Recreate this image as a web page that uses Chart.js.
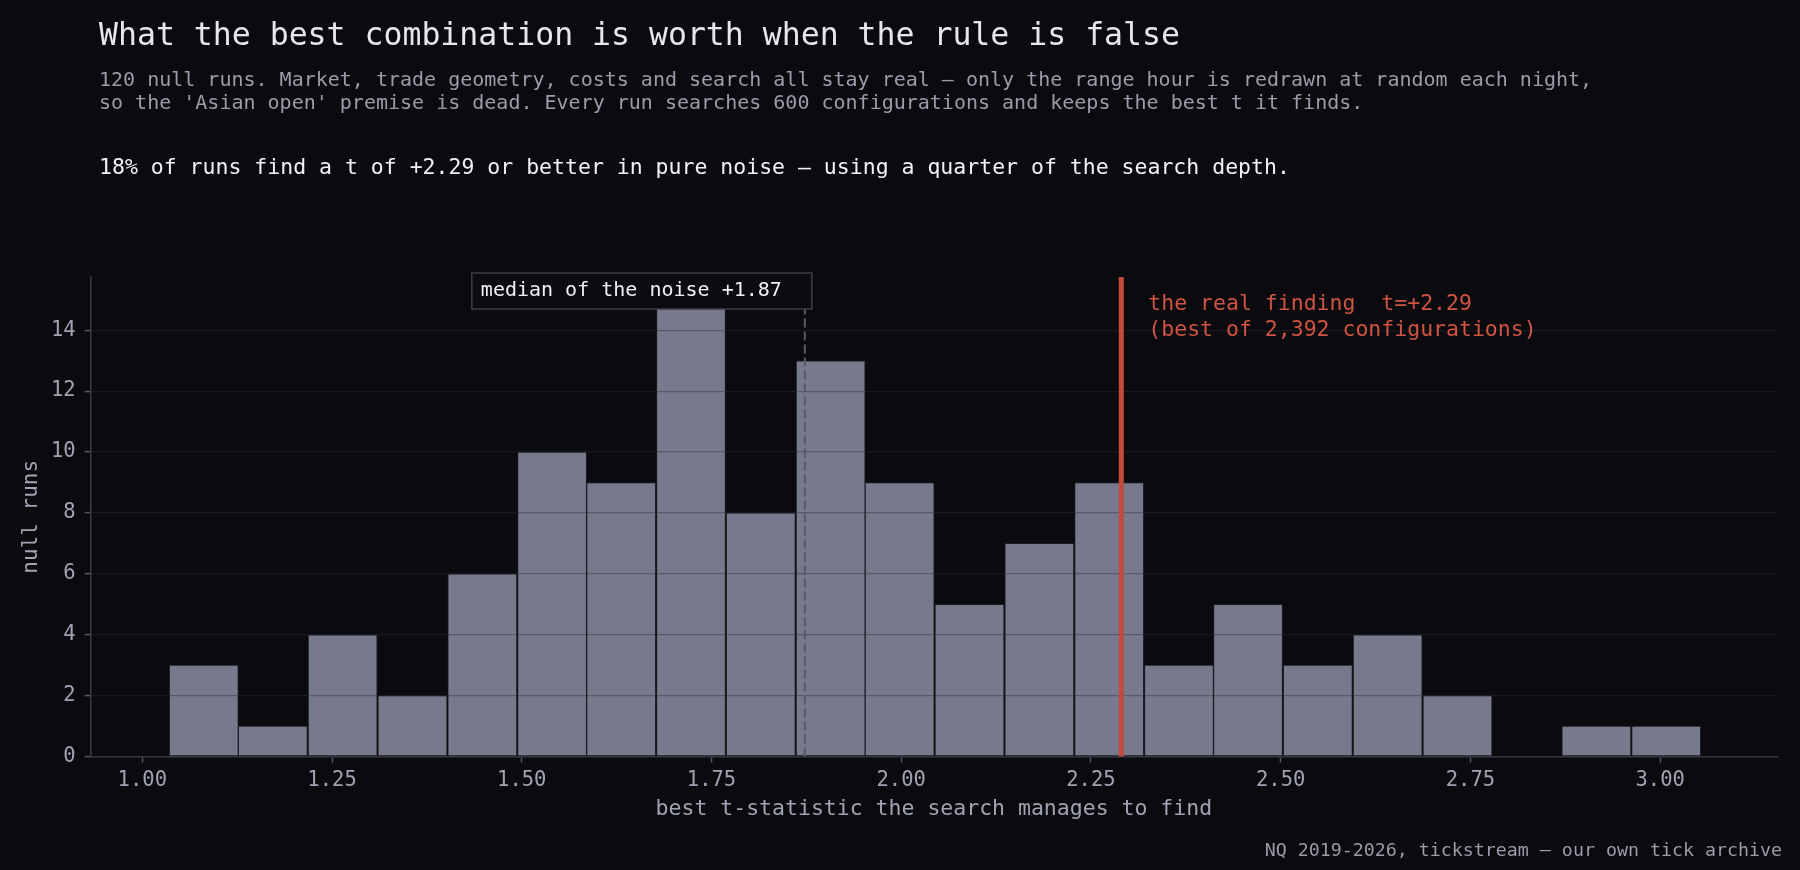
<!DOCTYPE html>
<html>
<head>
<meta charset="utf-8">
<title>What the best combination is worth when the rule is false</title>
<script src="https://cdn.jsdelivr.net/npm/chart.js@4.4.1/dist/chart.umd.min.js"></script>
<style>
  html, body { margin: 0; padding: 0; background: #0b0b0f; }
  #wrap { position: relative; width: 1800px; height: 870px; font-family: "DejaVu Sans Mono", monospace; }
  #wrap canvas { position: absolute; left: 0; top: 0; }
  .txt { position: absolute; white-space: pre; }
  #title { left: 99px; top: 15px; font-size: 31.5px; line-height: 38px; color: #e6e6ec; }
  #sub { left: 99px; top: 68px; font-size: 20px; line-height: 23px; color: #9a9caa; }
  #lead { left: 99px; top: 154px; font-size: 21.5px; line-height: 26px; color: #f2f2f6; }
  #source { right: 18px; top: 839px; font-size: 18.3px; line-height: 22px; color: #9a9caa; }
</style>
</head>
<body>
<div id="wrap">
  <canvas id="hist" width="1800" height="870"></canvas>
  <div class="txt" id="title">What the best combination is worth when the rule is false</div>
  <div class="txt" id="sub">120 null runs. Market, trade geometry, costs and search all stay real — only the range hour is redrawn at random each night,
so the 'Asian open' premise is dead. Every run searches 600 configurations and keeps the best t it finds.</div>
  <div class="txt" id="lead">18% of runs find a t of +2.29 or better in pure noise — using a quarter of the search depth.</div>
  <div class="txt" id="source">NQ 2019-2026, tickstream — our own tick archive</div>
</div>
<script>
// histogram bins (centres) and how many null runs fell in each
const binCenters = [1.081, 1.172, 1.264, 1.356, 1.448, 1.540, 1.631, 1.723, 1.815, 1.907, 1.998,
                    2.090, 2.182, 2.274, 2.366, 2.457, 2.549, 2.641, 2.733, 2.824, 2.916, 3.008];
const nullRunCounts = [3, 1, 4, 2, 6, 10, 9, 15, 8, 13, 9, 5, 7, 9, 3, 5, 3, 4, 2, 0, 1, 1];

const xTickValues = [1.00, 1.25, 1.50, 1.75, 2.00, 2.25, 2.50, 2.75, 3.00];
const yTickValues = [0, 2, 4, 6, 8, 10, 12, 14];
const xRange = [0.932, 3.154];
const yMax = 15.75;

const medianT = 1.873;
const realT = 2.29;
const medianLabel = 'median of the noise +1.87';
const realLabel = ['the real finding  t=+2.29', '(best of 2,392 configurations)'];

const FONT = '"DejaVu Sans Mono", monospace';

// vertical markers and their labels, drawn on top of everything
const markerPlugin = {
    id: 'markers',
    afterDraw(chart) {
        const ctx = chart.ctx;
        const area = chart.chartArea;
        const x = chart.scales.x;
        const mx = x.getPixelForValue(medianT);
        const rx = x.getPixelForValue(realT);
        ctx.save();

        // median of the noise, dashed
        ctx.strokeStyle = '#585a68';
        ctx.lineWidth = 2;
        ctx.setLineDash([9, 4]);
        ctx.beginPath();
        ctx.moveTo(mx, area.bottom);
        ctx.lineTo(mx, area.top);
        ctx.stroke();
        ctx.setLineDash([]);

        // label box for the median
        const boxRight = mx + 7;
        const boxLeft = boxRight - 340;
        const boxTop = area.top - 4;
        const boxH = 36;
        ctx.fillStyle = '#0c0c10';
        ctx.fillRect(boxLeft, boxTop, boxRight - boxLeft, boxH);
        ctx.strokeStyle = '#3c3d48';
        ctx.lineWidth = 1.5;
        ctx.strokeRect(boxLeft, boxTop, boxRight - boxLeft, boxH);
        ctx.fillStyle = '#f0f0f4';
        ctx.font = '20px ' + FONT;
        ctx.textBaseline = 'middle';
        ctx.textAlign = 'left';
        ctx.fillText(medianLabel, boxLeft + 9, boxTop + boxH / 2);

        // the real finding
        ctx.strokeStyle = '#c24b3b';
        ctx.lineWidth = 5;
        ctx.beginPath();
        ctx.moveTo(rx, area.bottom);
        ctx.lineTo(rx, area.top);
        ctx.stroke();
        ctx.fillStyle = '#cf5442';
        ctx.font = '21.5px ' + FONT;
        ctx.fillText(realLabel[0], rx + 27, area.top + 27);
        ctx.fillText(realLabel[1], rx + 27, area.top + 53);

        ctx.restore();
    }
};

const ctx = document.getElementById('hist').getContext('2d');
new Chart(ctx, {
    type: 'bar',
    data: {
        datasets: [{
            label: 'null runs',
            data: binCenters.map((c, i) => ({ x: c, y: nullRunCounts[i] })),
            backgroundColor: '#777a8c',
            borderColor: '#1c1d24',
            borderWidth: 1,
            borderSkipped: false,
            barPercentage: 1,
            categoryPercentage: 1
        }]
    },
    options: {
        responsive: false,
        devicePixelRatio: 1,
        animation: false,
        layout: { padding: { top: 277, right: 23, bottom: 0, left: 0 } },
        plugins: { legend: { display: false }, tooltip: { enabled: false } },
        scales: {
            x: {
                type: 'linear',
                min: xRange[0],
                max: xRange[1],
                offset: false,
                grid: { offset: false, drawOnChartArea: false, tickLength: 6, tickColor: '#55586a', tickWidth: 1.5 },
                border: { color: '#3a3b46', width: 1.5 },
                afterBuildTicks: s => { s.ticks = xTickValues.map(v => ({ value: v })); },
                afterFit: s => { s.height = 113.5; },
                ticks: {
                    color: '#a0a3b1',
                    font: { family: FONT, size: 20.5 },
                    padding: 6,
                    maxRotation: 0,
                    callback: v => Number(v).toFixed(2)
                },
                title: {
                    display: true,
                    text: 'best t-statistic the search manages to find',
                    color: '#a0a3b1',
                    font: { family: FONT, size: 21.5 },
                    padding: { top: 0, bottom: 48 }
                }
            },
            y: {
                min: 0,
                max: yMax,
                grid: { color: 'rgba(44,46,56,0.4)', z: 1, tickLength: 6, tickColor: '#55586a', tickWidth: 1.5, lineWidth: 1.2 },
                border: { color: '#3a3b46', width: 1.5, z: 2 },
                afterBuildTicks: s => { s.ticks = yTickValues.map(v => ({ value: v })); },
                afterFit: s => { s.width = 90.7; },
                ticks: {
                    color: '#a0a3b1',
                    font: { family: FONT, size: 20.5 },
                    padding: 9
                },
                title: {
                    display: true,
                    text: 'null runs',
                    color: '#a0a3b1',
                    font: { family: FONT, size: 21 },
                    padding: { top: 19, bottom: 0 }
                }
            }
        }
    },
    plugins: [markerPlugin]
});
</script>
</body>
</html>
